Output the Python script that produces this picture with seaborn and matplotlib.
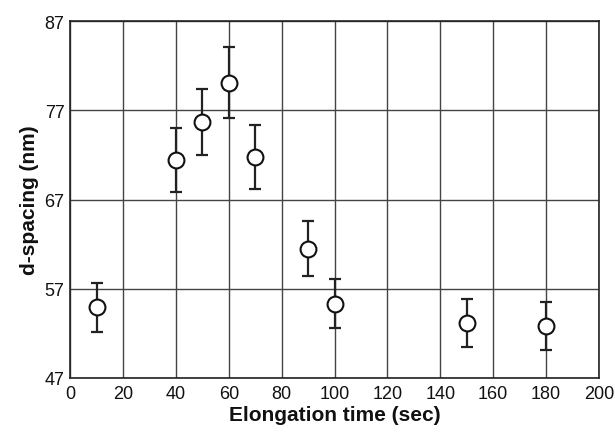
import seaborn as sns
import pandas as pd
import matplotlib.pyplot as plt

# data
elong_time = [10, 40, 50, 60, 70, 90, 100, 150, 180]
d_spacing = [54.9, 71.4, 75.7, 80.1, 71.8, 61.5, 55.3, 53.2, 52.8]
d_err = [2.75, 3.6, 3.75, 4.0, 3.6, 3.05, 2.75, 2.7, 2.7]

df = pd.DataFrame({'time': elong_time, 'd': d_spacing, 'err': d_err})

sns.set_style('white')
plt.rcParams['font.family'] = ['Liberation Sans', 'DejaVu Sans']
plt.rcParams['text.color'] = '#111111'
plt.rcParams['axes.labelcolor'] = '#111111'
plt.rcParams['xtick.color'] = '#111111'
plt.rcParams['ytick.color'] = '#111111'

fig, ax = plt.subplots(figsize=(6.15, 4.35), dpi=100)
fig.subplots_adjust(left=0.114, right=0.974, top=0.949, bottom=0.129)

# error bars first, then open circles on top
ax.errorbar(df['time'], df['d'], yerr=df['err'], fmt='none', ecolor='#222222',
            elinewidth=1.6, capsize=4, capthick=1.6, zorder=3)
sns.scatterplot(data=df, x='time', y='d', ax=ax, s=130, facecolor='white',
                edgecolor='#111111', linewidth=1.5, zorder=4)

ax.set_xlim(0, 200)
ax.set_ylim(47, 87)
ax.set_xticks(range(0, 201, 20))
ax.set_xticks(range(10, 200, 20), minor=True)
ax.set_yticks([47, 57, 67, 77, 87])
ax.grid(True, which='major', color='#444444', linewidth=1.0)
ax.set_axisbelow(True)

ax.tick_params(axis='both', which='major', labelsize=13, length=0)
ax.tick_params(axis='x', which='major', pad=5)
ax.tick_params(axis='y', which='major', pad=4)
ax.tick_params(axis='x', which='minor', direction='in', length=3, color='#555555')
for s in ax.spines.values():
    s.set_color('#222222')
    s.set_linewidth(1.2)

ax.set_xlabel('Elongation time (sec)', fontsize=15, fontweight='bold', labelpad=2)
ax.set_ylabel('d-spacing (nm)', fontsize=15, fontweight='bold', labelpad=4)

plt.savefig('out.png', dpi=100)
